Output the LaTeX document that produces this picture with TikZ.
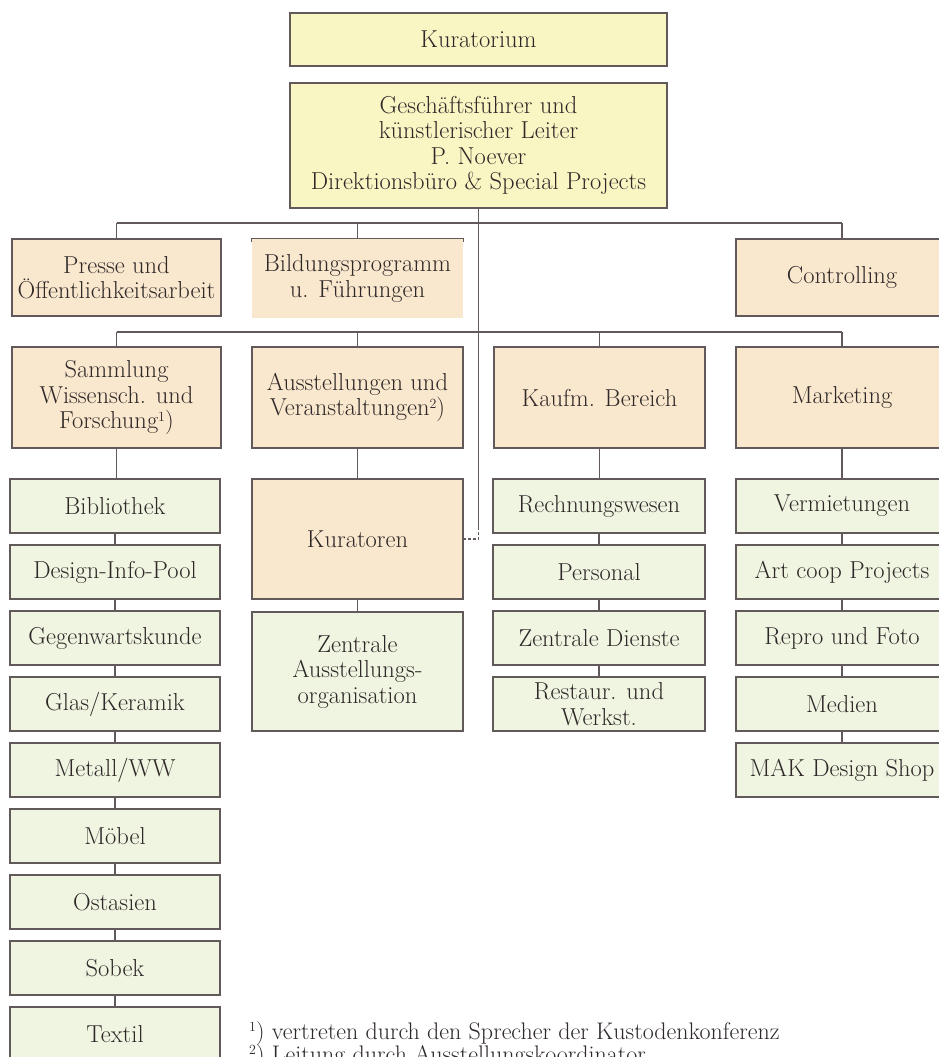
\documentclass[tikz,border=0pt]{standalone}
\usepackage{fontspec}
\definecolor{yel}{HTML}{FAF6C4}
\definecolor{pch}{HTML}{FAE8CE}
\definecolor{grn}{HTML}{F0F5E1}
\definecolor{brd}{HTML}{625A5A}
\definecolor{txt}{HTML}{2E2828}
\newcommand{\bxfont}{\fontsize{24.5}{25.5}\selectfont}
\newcommand{\fnfont}{\fontsize{24}{23}\selectfont}
\newcommand{\fnm}[1]{\raisebox{0.3em}{\fontsize{14}{14}\selectfont #1}}
\begin{document}
\begin{tikzpicture}[x=1pt,y=-1pt,
  bx/.style={draw=brd, line width=1.2pt, inner sep=0pt, align=center, text=txt, font=\bxfont},
  ybx/.style={bx, fill=yel},
  pbx/.style={bx, fill=pch},
  gbx/.style={bx, fill=grn, minimum height=54pt},
  lcol/.style={gbx, minimum width=210pt},
  ccol/.style={gbx, minimum width=212pt},
  ln/.style={draw=brd, line width=1.2pt},
  fn/.style={anchor=base west, inner sep=0pt, text=txt, font=\fnfont}]
\useasboundingbox (0,0) rectangle (938,1057);

% top
\node[ybx, minimum width=377pt, minimum height=53pt] (kur) at (478.5,39.5) {Kuratorium};
\node[ybx, minimum width=377pt, minimum height=125pt] (gf) at (478.5,145.5)
  {Geschäftsführer und\\künstlerischer Leiter\\P. Noever\\Direktionsbüro \& Special Projects};

% staff row
\node[pbx, minimum width=209pt, minimum height=77pt] (presse) at (116.5,277.5) {Presse und\\Öffentlichkeitsarbeit};
\node[pbx, draw=none, minimum width=211pt, minimum height=79pt] (bild) at (357.5,278.5) {Bildungsprogramm\\u. Führungen};
\node[pbx, minimum width=212pt, minimum height=77pt] (contr) at (842,277.5) {Controlling};

% department row
\node[pbx, minimum width=209pt, minimum height=101pt] (samml) at (116.5,397.5) {Sammlung\\Wissensch. und\\Forschung\fnm{1})};
\node[pbx, minimum width=211pt, minimum height=101pt] (ausst) at (357.5,397.5) {Ausstellungen und\\Veranstaltungen\fnm{2})};
\node[pbx, minimum width=211pt, minimum height=101pt] (kauf) at (599.5,397.5) {Kaufm. Bereich};
\node[pbx, minimum width=212pt, minimum height=101pt] (mark) at (842,397.5) {Marketing};

% left column
\node[lcol] (l1) at (115,506) {Bibliothek};
\node[lcol] (l2) at (115,572) {Design-Info-Pool};
\node[lcol] (l3) at (115,638) {Gegenwartskunde};
\node[lcol] (l4) at (115,704) {Glas/Keramik};
\node[lcol] (l5) at (115,770) {Metall/WW};
\node[lcol] (l6) at (115,836) {Möbel};
\node[lcol] (l7) at (115,902) {Ostasien};
\node[lcol] (l8) at (115,968) {Sobek};
\node[lcol] (l9) at (115,1034) {Textil};

% exhibitions column
\node[pbx, minimum width=211pt, minimum height=120pt] (kurat) at (357.5,539) {Kuratoren};
\node[gbx, minimum width=211pt, minimum height=119pt] (zaus) at (357.5,671.5) {Zentrale\\Ausstellungs-\\organisation};

% commercial column
\node[ccol] (k1) at (599,506) {Rechnungswesen};
\node[ccol] (k2) at (599,572) {Personal};
\node[ccol] (k3) at (599,638) {Zentrale Dienste};
\node[ccol] (k4) at (599,704) {Restaur. und\\Werkst.};

% marketing column
\node[ccol] (m1) at (842,506) {Vermietungen};
\node[ccol] (m2) at (842,572) {Art coop Projects};
\node[ccol] (m3) at (842,638) {Repro und Foto};
\node[ccol] (m4) at (842,704) {Medien};
\node[ccol] (m5) at (842,770) {MAK Design Shop};

% buses
\coordinate (b1l) at (116.5,223);
\coordinate (b1r) at (842,223);
\coordinate (b2l) at (116.5,332);
\coordinate (b2r) at (842,332);
\coordinate (dk) at (478.5,527);
\draw[ln] (b1l) -- (b1r);
\draw[ln] (b2l) -- (b2r);
\draw[ln] (gf.south) -- (dk);
\draw[ln, dash pattern=on 3pt off 2pt] (dk) -- (dk |- kurat.east) -- (kurat.east);

% Bildung top edge
\draw[ln] ([yshift=-4pt]bild.north west) -- (bild.north west) -- (bild.north east) -- ([yshift=-4pt]bild.north east);

% drops
\draw[ln] (presse.north) -- (presse.north |- b1l);
\draw[ln] (bild.north) -- (bild.north |- b1l);
\draw[ln] (contr.north) -- (contr.north |- b1l);
\draw[ln] (samml.north) -- (samml.north |- b2l);
\draw[ln] (ausst.north) -- (ausst.north |- b2l);
\draw[ln] (kauf.north) -- (kauf.north |- b2l);
\draw[ln] (mark.north) -- (mark.north |- b2l);

% column chains
\draw[ln] (samml.south) -- (samml.south |- l1.north);
\foreach \a/\b in {l1/l2,l2/l3,l3/l4,l4/l5,l5/l6,l6/l7,l7/l8,l8/l9}
  \draw[ln] (\a.south) -- (\a.south |- \b.north);
\draw[ln] (ausst.south) -- (kurat.north);
\draw[ln] (kurat.south) -- (zaus.north);
\draw[ln] (kauf.south) -- (kauf.south |- k1.north);
\foreach \a/\b in {k1/k2,k2/k3,k3/k4}
  \draw[ln] (\a.south) -- (\a.south |- \b.north);
\draw[ln] (mark.south) -- (mark.south |- m1.north);
\foreach \a/\b in {m1/m2,m2/m3,m3/m4,m4/m5}
  \draw[ln] (\a.south) -- (\a.south |- \b.north);

% footnotes
\node[fn] (fn1) at (249,1039) {\fnm{1}) vertreten durch den Sprecher der Kustodenkonferenz};
\node[fn] (fn2) at (249,1062) {\fnm{2}) Leitung durch Ausstellungskoordinator};
\end{tikzpicture}
\end{document}
